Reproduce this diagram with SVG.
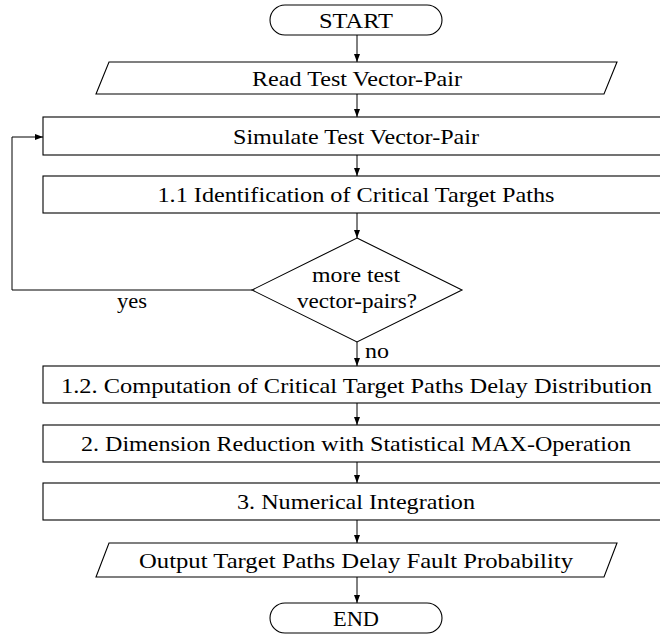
<svg xmlns="http://www.w3.org/2000/svg" width="660" height="637" viewBox="0 0 660 637">
  <style>
    .shape { fill: #ffffff; stroke: #000000; stroke-width: 1.1; }
    .lbl { font-size: 21px; fill: #000000; text-anchor: middle; }
    .edge { fill: none; stroke: #000000; stroke-width: 1; marker-end: url(#tip); }
  </style>
  <defs>
    <marker id="tip" viewBox="0 0 8 6" refX="8" refY="3" markerWidth="8" markerHeight="6" markerUnits="userSpaceOnUse" orient="auto">
      <path d="M0,0 L8,3 L0,6 Z" fill="#000000"/>
    </marker>
  </defs>
  <rect width="660" height="637" fill="#ffffff"/>

  <g id="connectors">
    <line class="edge" x1="357" y1="35" x2="357" y2="62"/>
    <line class="edge" x1="357" y1="94" x2="357" y2="117"/>
    <line class="edge" x1="357" y1="155" x2="357" y2="176"/>
    <line class="edge" x1="357" y1="213" x2="357" y2="238"/>
    <line class="edge" x1="357" y1="342" x2="357" y2="366"/>
    <line class="edge" x1="357" y1="403" x2="357" y2="425"/>
    <line class="edge" x1="357" y1="462" x2="357" y2="483"/>
    <line class="edge" x1="357" y1="520" x2="357" y2="543"/>
    <line class="edge" x1="357" y1="577" x2="357" y2="603"/>
    <polyline class="edge" points="252,290 12,290 12,137 43,137"/>
    <text class="lbl" font-family="Liberation Serif" x="132" y="308" textLength="30" lengthAdjust="spacingAndGlyphs">yes</text>
    <text class="lbl" font-family="Liberation Serif" x="377" y="358" textLength="24" lengthAdjust="spacingAndGlyphs">no</text>
  </g>

  <g id="start">
    <rect class="shape" x="270" y="5" width="172" height="30" rx="15" ry="15"/>
    <text class="lbl" font-family="Liberation Serif" x="356" y="28" textLength="74" lengthAdjust="spacingAndGlyphs">START</text>
  </g>

  <g id="read-input">
    <polygon class="shape" points="109,62 617,62 604,94 96,94"/>
    <text class="lbl" font-family="Liberation Serif" x="357" y="86" textLength="210" lengthAdjust="spacingAndGlyphs">Read Test Vector-Pair</text>
  </g>

  <g id="simulate">
    <rect class="shape" x="43" y="117" width="628" height="38"/>
    <text class="lbl" font-family="Liberation Serif" x="356" y="144" textLength="246" lengthAdjust="spacingAndGlyphs">Simulate Test Vector-Pair</text>
  </g>

  <g id="identify-paths">
    <rect class="shape" x="43" y="176" width="628" height="37"/>
    <text class="lbl" font-family="Liberation Serif" x="356" y="202" textLength="397" lengthAdjust="spacingAndGlyphs">1.1 Identification of Critical Target Paths</text>
  </g>

  <g id="more-pairs">
    <polygon class="shape" points="357,238 462,290 357,342 252,290"/>
    <text class="lbl" font-family="Liberation Serif" x="356" y="282" textLength="88" lengthAdjust="spacingAndGlyphs">more test</text>
    <text class="lbl" font-family="Liberation Serif" x="357" y="308" textLength="120" lengthAdjust="spacingAndGlyphs">vector-pairs?</text>
  </g>

  <g id="delay-distribution">
    <rect class="shape" x="43" y="366" width="628" height="37"/>
    <text class="lbl" font-family="Liberation Serif" x="356.5" y="393" textLength="591" lengthAdjust="spacingAndGlyphs">1.2. Computation of Critical Target Paths Delay Distribution</text>
  </g>

  <g id="dimension-reduction">
    <rect class="shape" x="43" y="425" width="628" height="37"/>
    <text class="lbl" font-family="Liberation Serif" x="356" y="451" textLength="550" lengthAdjust="spacingAndGlyphs">2. Dimension Reduction with Statistical MAX-Operation</text>
  </g>

  <g id="integration">
    <rect class="shape" x="43" y="483" width="628" height="37"/>
    <text class="lbl" font-family="Liberation Serif" x="356" y="509" textLength="238" lengthAdjust="spacingAndGlyphs">3. Numerical Integration</text>
  </g>

  <g id="write-output">
    <polygon class="shape" points="109,543 617,543 604,577 96,577"/>
    <text class="lbl" font-family="Liberation Serif" x="356" y="568" textLength="434" lengthAdjust="spacingAndGlyphs">Output Target Paths Delay Fault Probability</text>
  </g>

  <g id="end">
    <rect class="shape" x="270" y="603" width="172" height="30" rx="15" ry="15"/>
    <text class="lbl" font-family="Liberation Serif" x="356" y="626" textLength="46" lengthAdjust="spacingAndGlyphs">END</text>
  </g>
</svg>
